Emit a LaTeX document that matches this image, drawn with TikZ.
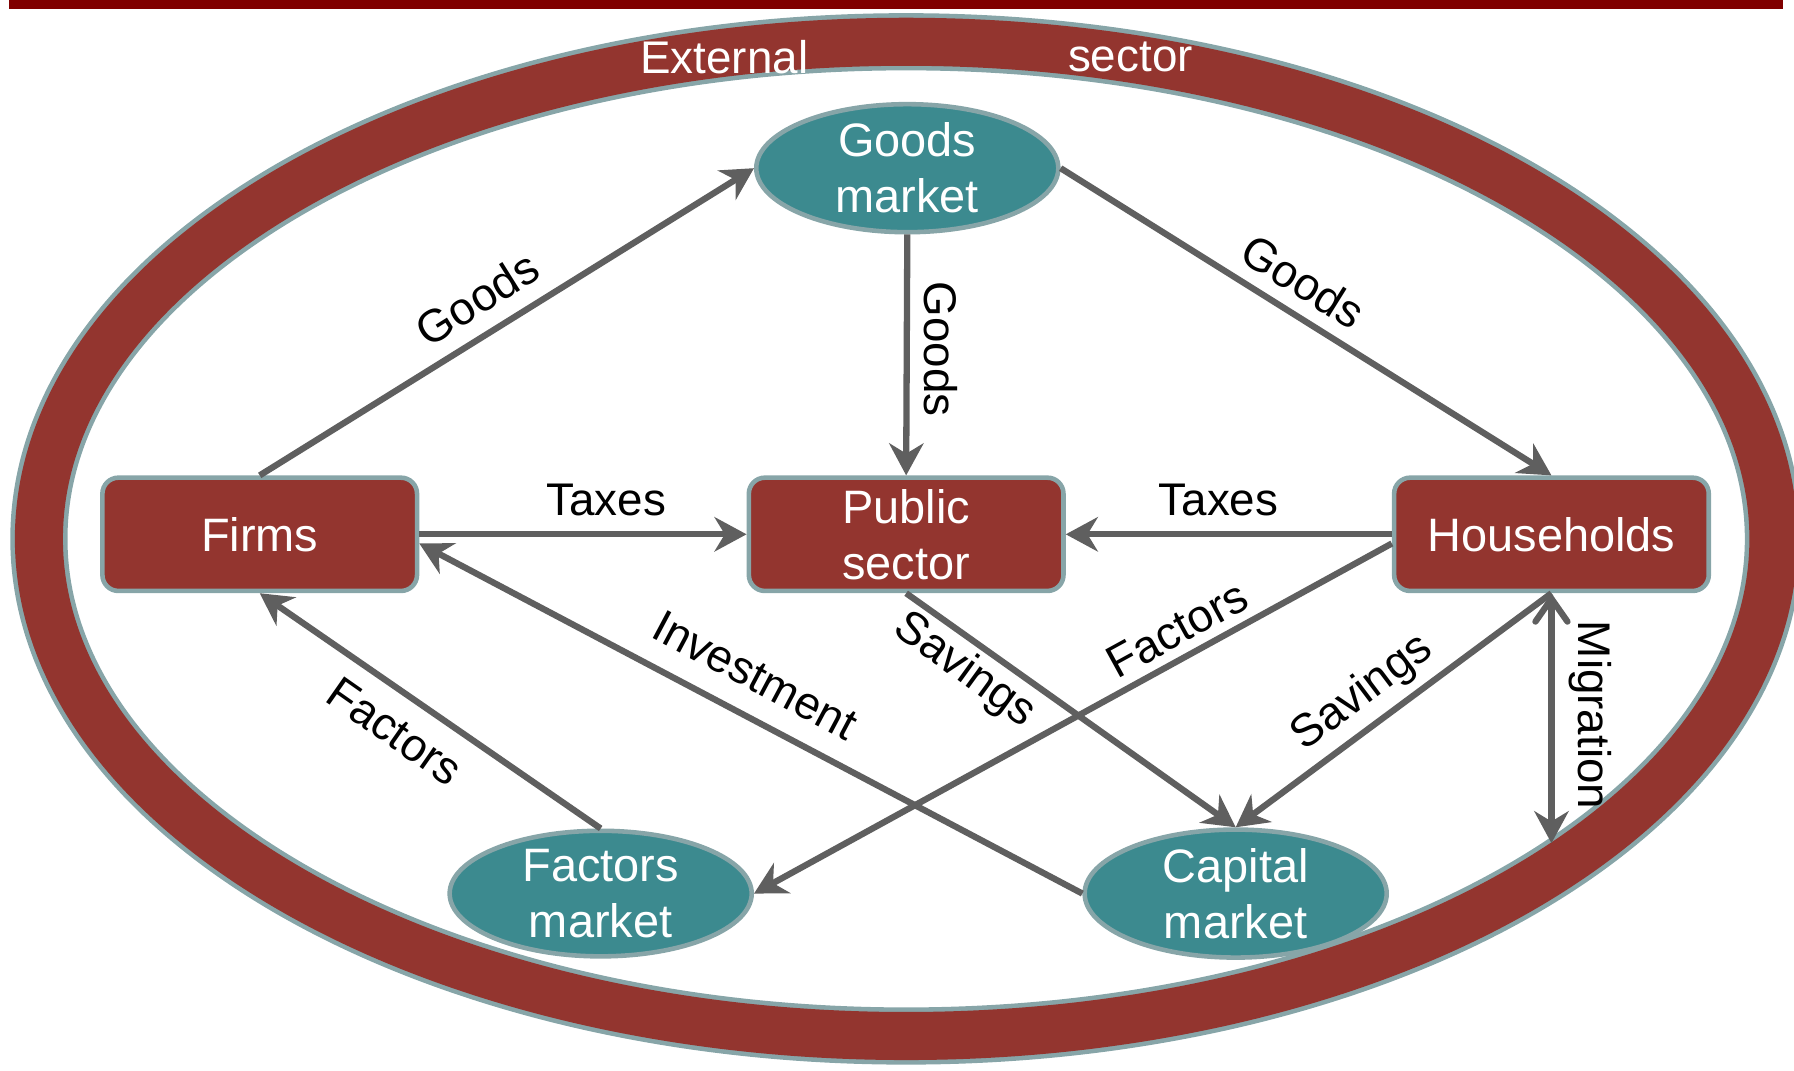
\documentclass[tikz,border=0pt]{standalone}
\usepackage{fontspec}
\setmainfont{Liberation Sans}
\usetikzlibrary{shapes.geometric,arrows.meta}
\definecolor{ringred}{RGB}{147,53,47}
\definecolor{edgegray}{RGB}{135,165,168}
\definecolor{tealfill}{RGB}{60,138,143}
\definecolor{arrowgray}{RGB}{95,95,95}
\definecolor{barred}{RGB}{128,0,0}
\tikzset{
  agent/.style={draw=edgegray, line width=4pt, fill=ringred, rounded corners=14pt,
    minimum width=275pt, minimum height=99pt, text=white,
    font=\fontsize{41}{49}\selectfont, align=center, inner sep=0pt},
  market/.style={ellipse, draw=edgegray, line width=4pt, fill=tealfill,
    minimum width=264pt, minimum height=104pt, text=white,
    font=\fontsize{41}{49}\selectfont, align=center, inner sep=0pt},
  flow/.style={draw=arrowgray, line width=5.5pt, -{Stealth[length=28pt,width=30pt,inset=9pt]}},
  twoway/.style={draw=arrowgray, line width=5.5pt,
    {Straight Barb[length=20pt,width=28pt,line cap=round]}-{Stealth[length=28pt,width=30pt,inset=9pt]}},
  lbl/.style={font=\fontsize{40}{48}\selectfont, inner sep=0pt},
  ringtxt/.style={font=\fontsize{40}{48}\selectfont, text=white, inner sep=0pt}
}
\begin{document}
\begin{tikzpicture}[x=1pt,y=-1pt]
\useasboundingbox (0,0) rectangle (1568,936);
% top bar
\fill[barred] (8,0) rectangle (1558,8);
% external sector ring
\draw[edgegray, line width=50pt] (792,471) ellipse [x radius=758, y radius=434.5];
\draw[ringred, line width=42pt] (792,471) ellipse [x radius=758, y radius=434.5];
\node[ringtxt] (ext) at (633,50) {External};
\node[ringtxt] (sec) at (988,50) {sector};
% agents and markets
\node[agent] (firms) at (227,467) {Firms};
\node[agent] (ps) at (792,467) {Public\\sector};
\node[agent] (hh) at (1356,467) {Households};
\node[market] (gm) at (793,147) {Goods\\market};
\node[market] (fm) at (525,781) {Factors\\market};
\node[market] (cm) at (1080,781) {Capital\\market};
\coordinate (mig) at (1356,737);
% flows
\draw[flow] (firms.north) -- (gm.west);
\draw[flow] (gm.south) -- (ps.north);
\draw[flow] (gm.east) -- (hh.north);
\draw[flow] (firms.east) -- (ps.west);
\draw[flow] (hh.west) -- (ps.east);
\draw[flow] ([yshift=-8pt]hh.west) -- (fm.east);
\draw[flow] (cm.west) -- ([yshift=-8pt]firms.east);
\draw[flow] (ps.south) -- (cm.north);
\draw[flow] (hh.south) -- (cm.north);
\draw[flow] (fm.north) -- (firms.south);
\draw[twoway] (hh.south) -- (mig);
% labels
\node[lbl, rotate=32] (l1) at (417,261) {Goods};
\node[lbl, rotate=-90] (l2) at (822,305) {Goods};
\node[lbl, rotate=-32] (l3) at (1139,246) {Goods};
\node[lbl] (l4) at (530,437) {Taxes};
\node[lbl] (l5) at (1065,437) {Taxes};
\node[lbl, rotate=28.7] (l6) at (1029,550) {Factors};
\node[lbl, rotate=-28] (l7) at (660,590) {Investment};
\node[lbl, rotate=-36] (l8) at (843,586) {Savings};
\node[lbl, rotate=37] (l9) at (1191,606) {Savings};
\node[lbl, rotate=-35] (l10) at (345,639) {Factors};
\node[lbl, rotate=-90] (l11) at (1390,625) {Migration};
\end{tikzpicture}
\end{document}
